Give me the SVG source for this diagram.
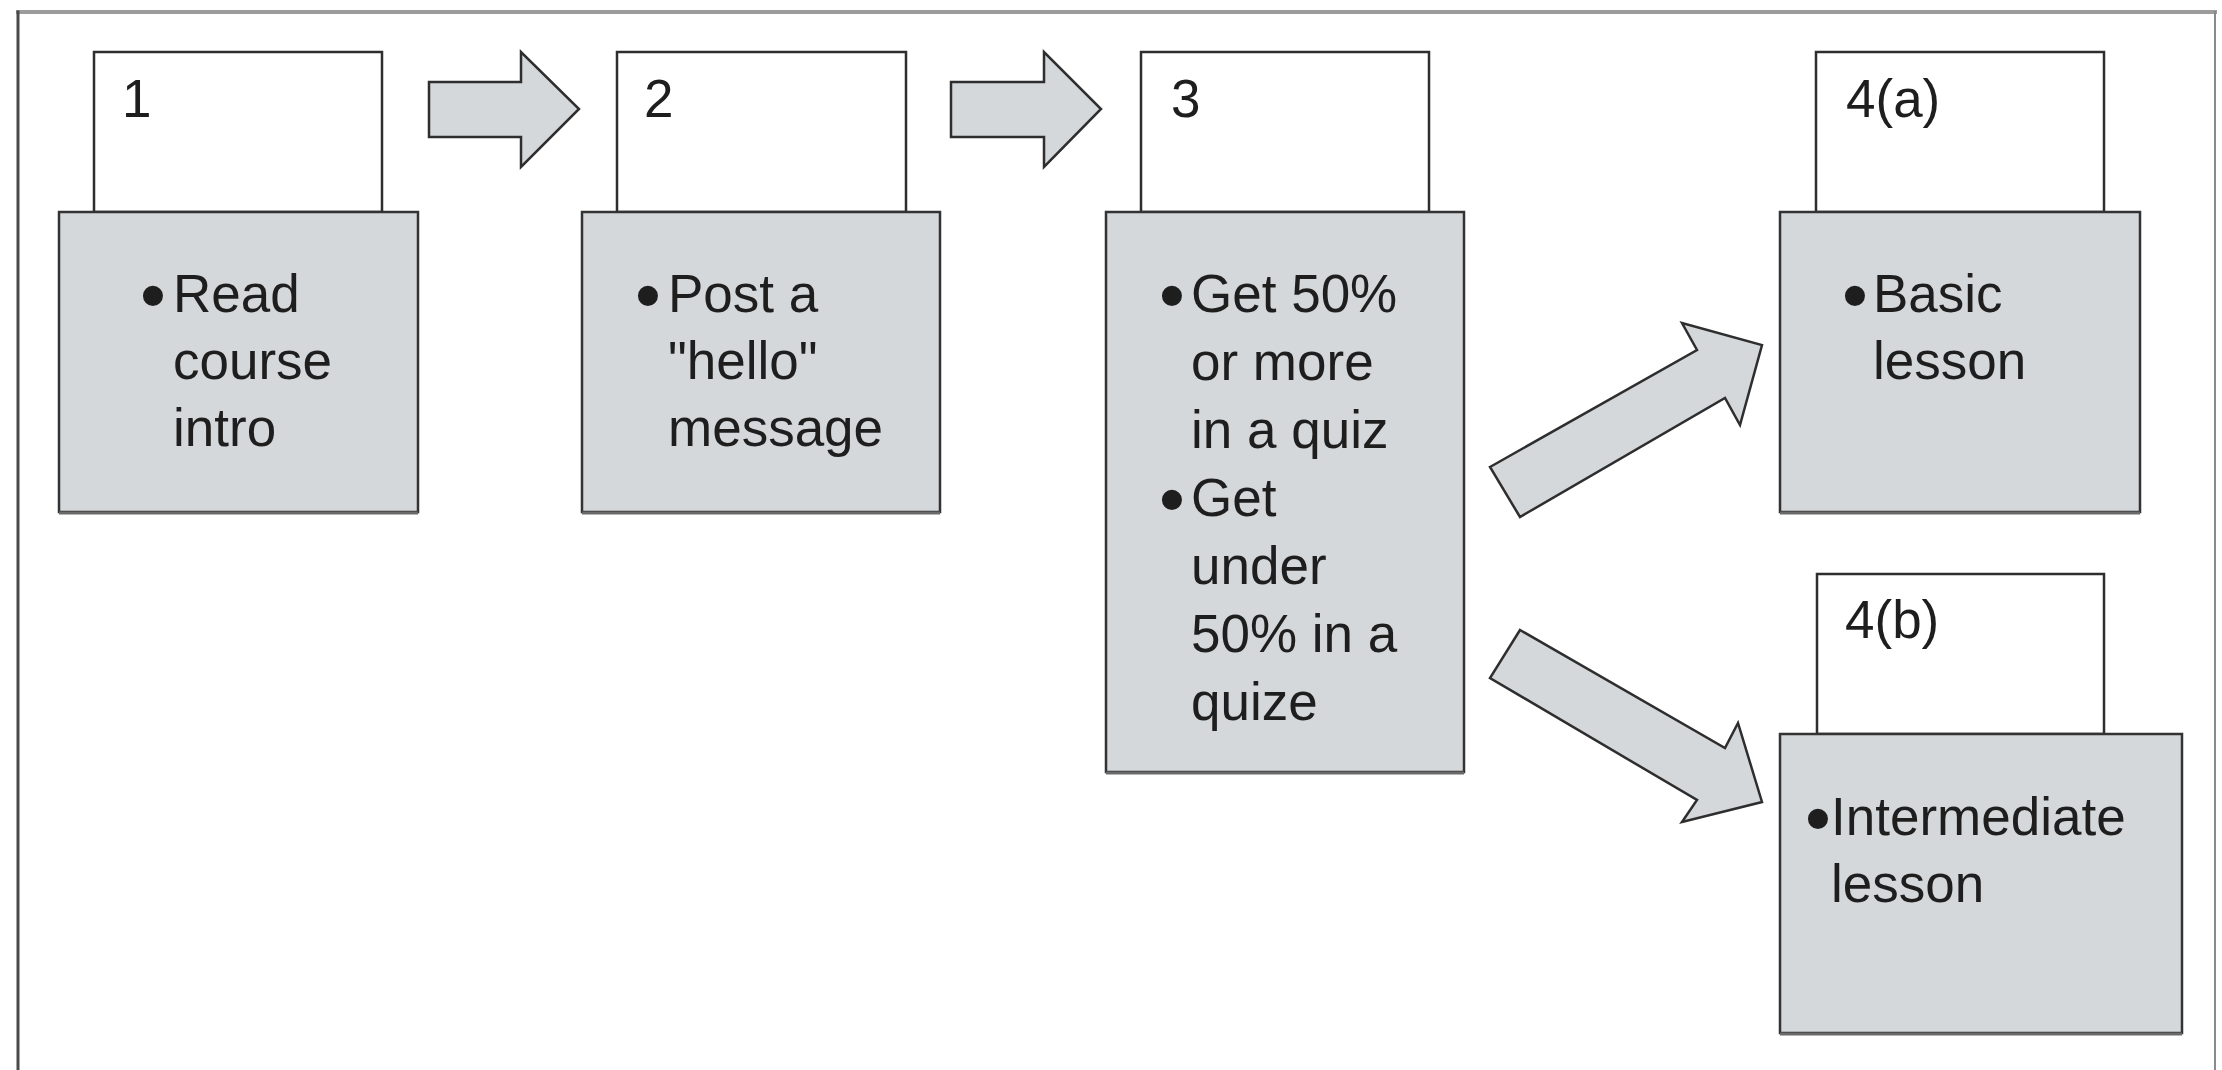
<svg xmlns="http://www.w3.org/2000/svg" width="2222" height="1070" viewBox="0 0 2222 1070">
<style>
.frame{stroke-linecap:square;fill:none}
.tab{fill:#ffffff;stroke:#2e2e2e;stroke-width:2.5}
.box{fill:#d5d8da;stroke:#333333;stroke-width:2.5}
.shadow{stroke:#6a6a6a;stroke-width:3;fill:none}
.arrow{fill:#d5d8da;stroke:#2e2e2e;stroke-width:2.5;stroke-linejoin:miter}
text{font-family:"Liberation Sans",Arial,sans-serif;font-size:53px;fill:#1e1e1e}
.bul{font-size:74px}
</style>
<rect width="2222" height="1070" fill="#ffffff"/>
<g id="frame">
<line class="frame" x1="18" y1="12" x2="2215" y2="12" stroke="#9c9c9c" stroke-width="4"/>
<line class="frame" x1="18" y1="12" x2="18" y2="1070" stroke="#4a4a4a" stroke-width="3"/>
<line class="frame" x1="2215" y1="12" x2="2215" y2="1070" stroke="#8a8a8a" stroke-width="2"/>
</g>
<g id="connectors">
<polygon class="arrow" points="429,82 521,82 521,52 579,109 521,167 521,137 429,137"/>
<polygon class="arrow" points="951,82 1044,82 1044,52 1101,109 1044,167 1044,137 951,137"/>
<polygon class="arrow" points="1490,467 1697,350 1682,323 1762,345 1740,425 1725,398 1520,517"/>
<polygon class="arrow" points="1520,630 1725,748 1738,723 1762,802 1682,822 1697,800 1490,678"/>
</g>
<g id="node1">
<rect class="tab" x="94" y="52" width="288" height="160"/>
<rect class="box" x="59" y="212" width="359" height="300"/>
<line class="shadow" x1="59" y1="513" x2="418" y2="513"/>
<text x="122" y="117">1</text>
<text class="bul" x="153" y="321" text-anchor="middle">•</text>
<text x="173" y="312">Read</text>
<text x="173" y="379">course</text>
<text x="173" y="446">intro</text>
</g>
<g id="node2">
<rect class="tab" x="617" y="52" width="289" height="160"/>
<rect class="box" x="582" y="212" width="358" height="300"/>
<line class="shadow" x1="582" y1="513" x2="940" y2="513"/>
<text x="644" y="117">2</text>
<text class="bul" x="648" y="321" text-anchor="middle">•</text>
<text x="668" y="312">Post a</text>
<text x="668" y="379">"hello"</text>
<text x="668" y="446">message</text>
</g>
<g id="node3">
<rect class="tab" x="1141" y="52" width="288" height="160"/>
<rect class="box" x="1106" y="212" width="358" height="560"/>
<line class="shadow" x1="1106" y1="773" x2="1464" y2="773"/>
<text x="1171" y="117">3</text>
<text class="bul" x="1172" y="321" text-anchor="middle">•</text>
<text x="1191" y="312">Get 50%</text>
<text x="1191" y="380">or more</text>
<text x="1191" y="448">in a quiz</text>
<text class="bul" x="1172" y="525" text-anchor="middle">•</text>
<text x="1191" y="516">Get</text>
<text x="1191" y="584">under</text>
<text x="1191" y="652">50% in a</text>
<text x="1191" y="720">quize</text>
</g>
<g id="node4a">
<rect class="tab" x="1816" y="52" width="288" height="160"/>
<rect class="box" x="1780" y="212" width="360" height="300"/>
<line class="shadow" x1="1780" y1="513" x2="2140" y2="513"/>
<text x="1846" y="117">4(a)</text>
<text class="bul" x="1855" y="321" text-anchor="middle">•</text>
<text x="1873" y="312">Basic</text>
<text x="1873" y="379">lesson</text>
</g>
<g id="node4b">
<rect class="tab" x="1817" y="574" width="287" height="160"/>
<rect class="box" x="1780" y="734" width="402" height="299"/>
<line class="shadow" x1="1780" y1="1034" x2="2182" y2="1034"/>
<text x="1845" y="638">4(b)</text>
<text class="bul" x="1818" y="844" text-anchor="middle">•</text>
<text x="1831" y="835">Intermediate</text>
<text x="1831" y="902">lesson</text>
</g>
</svg>
